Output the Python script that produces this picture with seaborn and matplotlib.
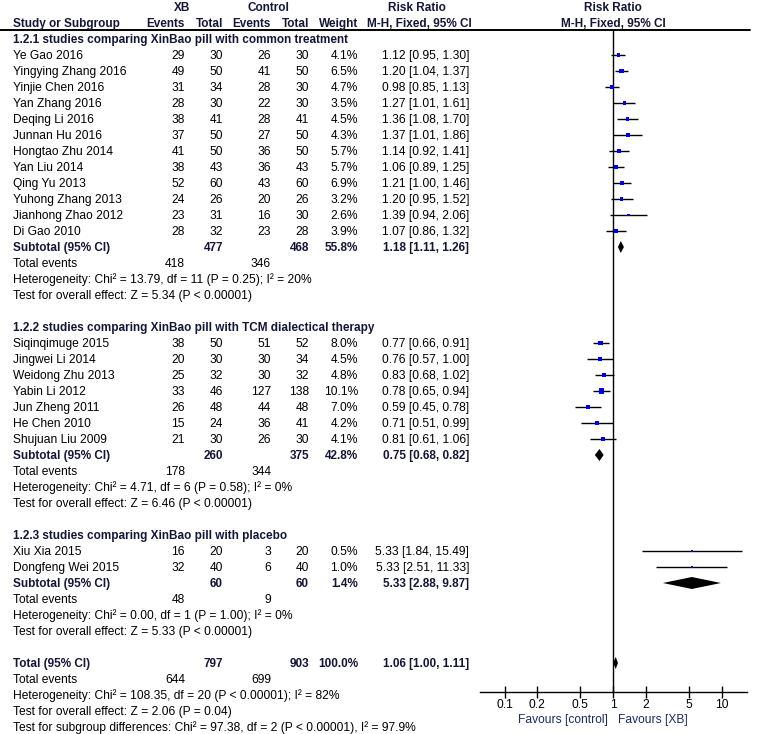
import matplotlib
matplotlib.use('Agg')
import matplotlib.pyplot as plt
import numpy as np
import pandas as pd
import seaborn as sns

# ---- data -------------------------------------------------------------
g1_title = '1.2.1 studies comparing XinBao pill with common treatment'
g1_names = ['Ye Gao 2016', 'Yingying Zhang 2016', 'Yinjie Chen 2016', 'Yan Zhang 2016',
            'Deqing Li 2016', 'Junnan Hu 2016', 'Hongtao Zhu 2014', 'Yan Liu 2014',
            'Qing Yu 2013', 'Yuhong Zhang 2013', 'Jianhong Zhao 2012', 'Di Gao 2010']
g1_xb_ev = [29, 49, 31, 28, 38, 37, 41, 38, 52, 24, 23, 28]
g1_xb_tot = [30, 50, 34, 30, 41, 50, 50, 43, 60, 26, 31, 32]
g1_ct_ev = [26, 41, 28, 22, 28, 27, 36, 36, 43, 20, 16, 23]
g1_ct_tot = [30, 50, 30, 30, 41, 50, 50, 43, 60, 26, 30, 28]
g1_weight = [4.1, 6.5, 4.7, 3.5, 4.5, 4.3, 5.7, 5.7, 6.9, 3.2, 2.6, 3.9]
g1_rr = [1.12, 1.20, 0.98, 1.27, 1.36, 1.37, 1.14, 1.06, 1.21, 1.20, 1.39, 1.07]
g1_lo = [0.95, 1.04, 0.85, 1.01, 1.08, 1.01, 0.92, 0.89, 1.00, 0.95, 0.94, 0.86]
g1_hi = [1.30, 1.37, 1.13, 1.61, 1.70, 1.86, 1.41, 1.25, 1.46, 1.52, 2.06, 1.32]
g1_sub = [477, 468, 55.8, 1.18, 1.11, 1.26]
g1_events = [418, 346]
g1_het = 'Heterogeneity: Chi² = 13.79, df = 11 (P = 0.25); I² = 20%'
g1_test = 'Test for overall effect: Z = 5.34 (P < 0.00001)'

g2_title = '1.2.2 studies comparing XinBao pill with TCM dialectical therapy'
g2_names = ['Siqinqimuge 2015', 'Jingwei Li 2014', 'Weidong Zhu 2013', 'Yabin Li 2012',
            'Jun Zheng 2011', 'He Chen 2010', 'Shujuan Liu 2009']
g2_xb_ev = [38, 20, 25, 33, 26, 15, 21]
g2_xb_tot = [50, 30, 32, 46, 48, 24, 30]
g2_ct_ev = [51, 30, 30, 127, 44, 36, 26]
g2_ct_tot = [52, 34, 32, 138, 48, 41, 30]
g2_weight = [8.0, 4.5, 4.8, 10.1, 7.0, 4.2, 4.1]
g2_rr = [0.77, 0.76, 0.83, 0.78, 0.59, 0.71, 0.81]
g2_lo = [0.66, 0.57, 0.68, 0.65, 0.45, 0.51, 0.61]
g2_hi = [0.91, 1.00, 1.02, 0.94, 0.78, 0.99, 1.06]
g2_sub = [260, 375, 42.8, 0.75, 0.68, 0.82]
g2_events = [178, 344]
g2_het = 'Heterogeneity: Chi² = 4.71, df = 6 (P = 0.58); I² = 0%'
g2_test = 'Test for overall effect: Z = 6.46 (P < 0.00001)'

g3_title = '1.2.3 studies comparing XinBao pill with placebo'
g3_names = ['Xiu Xia 2015', 'Dongfeng Wei 2015']
g3_xb_ev = [16, 32]
g3_xb_tot = [20, 40]
g3_ct_ev = [3, 6]
g3_ct_tot = [20, 40]
g3_weight = [0.5, 1.0]
g3_rr = [5.33, 5.33]
g3_lo = [1.84, 2.51]
g3_hi = [15.49, 11.33]
g3_sub = [60, 60, 1.4, 5.33, 2.88, 9.87]
g3_events = [48, 9]
g3_het = 'Heterogeneity: Chi² = 0.00, df = 1 (P = 1.00); I² = 0%'
g3_test = 'Test for overall effect: Z = 5.33 (P < 0.00001)'

tot_sub = [797, 903, 100.0, 1.06, 1.00, 1.11]
tot_events = [644, 699]
tot_het = 'Heterogeneity: Chi² = 108.35, df = 20 (P < 0.00001); I² = 82%'
tot_test = 'Test for overall effect: Z = 2.06 (P = 0.04)'
tot_diff = 'Test for subgroup differences: Chi² = 97.38, df = 2 (P < 0.00001), I² = 97.9%'

ticks = [0.1, 0.2, 0.5, 1, 2, 5, 10]
tick_labels = ['0.1', '0.2', '0.5', '1', '2', '5', '10']

# ---- layout (pixels) --------------------------------------------------
W, H = 759, 734
FS = 8.65   # normal text
FSB = 8.45  # bold text (RevMan bold runs narrower)
BOLD_C = '#15153a'
C_NAME, C_XE, C_XT, C_CE, C_CT, C_W, C_RR = 13, 185, 223, 271, 309, 358, 469
ROW0, STEP = 39, 16.0

sns.set_style('white')
plt.rcParams['font.family'] = ['Liberation Sans', 'DejaVu Sans']

fig = plt.figure(figsize=(W / 100, H / 100), dpi=100)
tx = fig.add_axes([0, 0, 1, 1])
tx.set_xlim(0, W)
tx.set_ylim(H, 0)
tx.axis('off')

AX_L, AX_R, AX_TOP, AX_BOT = 480, 747, 30, 692
fa = fig.add_axes([AX_L / W, (H - AX_BOT) / H, (AX_R - AX_L) / W, (AX_BOT - AX_TOP) / H])
fa.patch.set_alpha(0)


def row(i):
    return ROW0 + STEP * i


def put(x, y, s, ha='left', bold=False, color=None):
    tx.text(x, y + 4.3, s, ha=ha, va='baseline', fontsize=FSB if bold else FS,
            fontweight='bold' if bold else 'normal',
            color=color or (BOLD_C if bold else 'black'))


def ci(rr, lo, hi):
    return '%.2f [%.2f, %.2f]' % (rr, lo, hi)


# header
for x, s in [(182, 'XB'), (268, 'Control'), (417, 'Risk Ratio'), (613, 'Risk Ratio')]:
    put(x, 7, s, ha='center', bold=True)
put(C_NAME, 23, 'Study or Subgroup', bold=True)
for x, s in [(C_XE, 'Events'), (C_XT, 'Total'), (C_CE, 'Events'), (C_CT, 'Total'), (C_W, 'Weight')]:
    put(x, 23, s, ha='right', bold=True)
for x in [419, 613]:
    put(x, 23, 'M-H, Fixed, 95% CI', ha='center', bold=True)
tx.plot([0, 750], [30, 30], color='black', lw=1.4)

groups = [
    (g1_title, g1_names, g1_xb_ev, g1_xb_tot, g1_ct_ev, g1_ct_tot, g1_weight, g1_rr, g1_lo, g1_hi,
     g1_sub, g1_events, g1_het, g1_test),
    (g2_title, g2_names, g2_xb_ev, g2_xb_tot, g2_ct_ev, g2_ct_tot, g2_weight, g2_rr, g2_lo, g2_hi,
     g2_sub, g2_events, g2_het, g2_test),
    (g3_title, g3_names, g3_xb_ev, g3_xb_tot, g3_ct_ev, g3_ct_tot, g3_weight, g3_rr, g3_lo, g3_hi,
     g3_sub, g3_events, g3_het, g3_test),
]

studies = []
diamonds = []


def summary(i, label, sub, events):
    y = row(i)
    put(C_NAME, y, label, bold=True)
    put(C_XT, y, str(sub[0]), ha='right', bold=True)
    put(C_CT, y, str(sub[1]), ha='right', bold=True)
    put(C_W, y, '%.1f%%' % sub[2], ha='right', bold=True)
    put(C_RR, y, ci(sub[3], sub[4], sub[5]), ha='right', bold=True)
    diamonds.append((y, sub[3], sub[4], sub[5]))
    y = row(i + 1)
    put(C_NAME, y, 'Total events')
    put(C_XE, y, str(events[0]), ha='right')
    put(C_CE, y, str(events[1]), ha='right')


i = 0
for (title, names, xe, xt, ce, ct, wt, rr, lo, hi, sub, ev, het, test) in groups:
    put(C_NAME, row(i), title, bold=True)
    i += 1
    for k in range(len(names)):
        y = row(i)
        put(C_NAME, y, names[k])
        put(C_XE, y, str(xe[k]), ha='right')
        put(C_XT, y, str(xt[k]), ha='right')
        put(C_CE, y, str(ce[k]), ha='right')
        put(C_CT, y, str(ct[k]), ha='right')
        put(C_W, y, '%.1f%%' % wt[k], ha='right')
        put(C_RR, y, ci(rr[k], lo[k], hi[k]), ha='right')
        studies.append(dict(y=y, rr=rr[k], lo=lo[k], hi=hi[k], weight=wt[k]))
        i += 1
    summary(i, 'Subtotal (95% CI)', sub, ev)
    put(C_NAME, row(i + 2), het)
    put(C_NAME, row(i + 3), test)
    i += 5

summary(i, 'Total (95% CI)', tot_sub, tot_events)
put(C_NAME, row(i + 2), tot_het)
put(C_NAME, row(i + 3), tot_test)
put(C_NAME, row(i + 4), tot_diff)

# ---- forest panel -----------------------------------------------------
df = pd.DataFrame(studies)
fa.set_xscale('log')
fa.set_xlim(10 ** -1.226, 10 ** 1.235)
fa.set_ylim(AX_BOT, AX_TOP)
fa.axvline(1, color='black', lw=1.0)
fa.hlines(df['y'], df['lo'], df['hi'], color='black', lw=1.0, zorder=3)
sns.scatterplot(data=df, x='rr', y='y', size='weight', sizes=(1.2, 16), size_norm=(0.5, 10.1),
                marker='s', color='#0000ee', edgecolor='none', linewidth=0, legend=False,
                ax=fa, zorder=4)
for (y, est, lo, hi) in diamonds:
    fa.fill([lo, est, hi, est], [y, y - 6, y, y + 6], color='black', lw=0, zorder=4)

for s in ['left', 'right', 'top']:
    fa.spines[s].set_visible(False)
fa.spines['bottom'].set_linewidth(1.0)
fa.spines['bottom'].set_color('black')
fa.set_yticks([])
fa.set_xticks(ticks)
fa.set_xticklabels(tick_labels)
fa.xaxis.set_minor_locator(matplotlib.ticker.NullLocator())
fa.tick_params(axis='x', direction='inout', length=8, width=1.0, pad=1.0, labelsize=FS,
               colors='black', bottom=True)
fa.set_xlabel('')
fa.set_ylabel('')

tx.text(608, 719 + 4.3, 'Favours [control]', ha='right', va='baseline', fontsize=FS, color='#1a2a6a')
tx.text(618, 719 + 4.3, 'Favours [XB]', ha='left', va='baseline', fontsize=FS, color='#1a2a6a')

fig.savefig('out.png', dpi=100)
